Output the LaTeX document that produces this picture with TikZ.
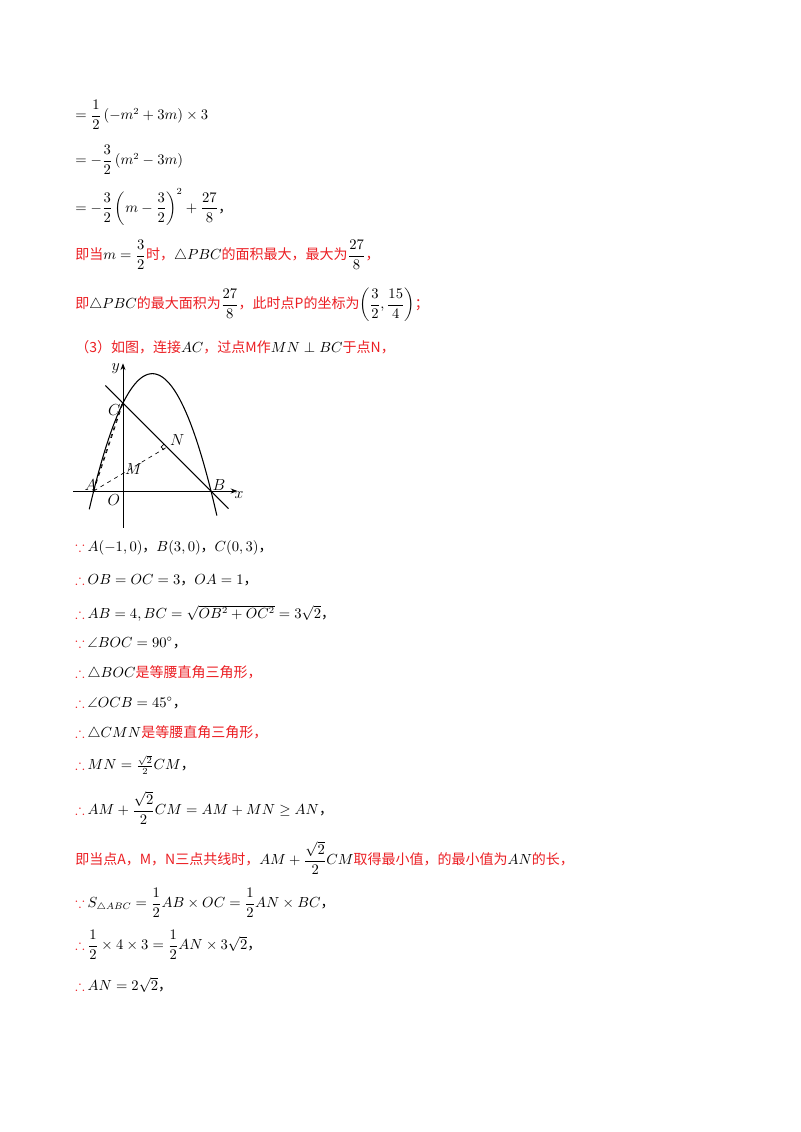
\documentclass[tikz,border=0pt]{standalone}
\usepackage{amsmath,amssymb}
\usepackage{fontspec}
\setmainfont{Noto Sans CJK SC}
\usetikzlibrary{arrows.meta,calc}
\definecolor{redt}{RGB}{235,30,35}
\newcommand{\rd}[1]{\textcolor{redt}{#1}}
\begin{document}
\begin{tikzpicture}[x=0.75pt,y=-0.75pt,
  ln/.style={anchor=west,inner sep=0pt,font=\fontsize{10.5}{12}\selectfont},
  ax/.style={line width=0.6pt},
  cv/.style={line width=0.8pt},
  lab/.style={font=\fontsize{12.5}{14}\selectfont,inner sep=1pt}]
\useasboundingbox (0,0) rectangle (800,1132);
\node[ln] (l1) at (75,115) {$=\dfrac12\left(-m^2+3m\right)\times 3$};
\node[ln] (l2) at (75,160) {$=-\dfrac32\left(m^2-3m\right)$};
\node[ln] (l3) at (75,207) {$=-\dfrac32\left(m-\dfrac32\right)^2+\dfrac{27}{8}$，};
\node[ln] (l4) at (75,255) {\rd{即当}$m=\dfrac32$\rd{时，}$\triangle PBC$\rd{的面积最大，最大为}$\dfrac{27}{8}$\rd{，}};
\node[ln] (l5) at (75,305) {\rd{即}$\triangle PBC$\rd{的最大面积为}$\dfrac{27}{8}$\rd{，此时点P的坐标为}$\left(\dfrac32,\dfrac{15}{4}\right)$\rd{；}};
\node[ln] (l6) at (75,347) {\rd{（3）如图，连接}$AC$\rd{，过点M作}$MN\perp BC$\rd{于点N，}};
% graph
\begin{scope}[shift={(123,491)},x=22pt,y=22pt]
\draw[ax,-{Stealth[length=5pt]}] (-1.7,0) -- (3.9,0);
\draw[ax,-{Stealth[length=5pt]}] (0,-1.25) -- (0,4.35);
\draw[cv] plot[domain=-1.15:3.2,samples=80,smooth] (\x,{-\x*\x+2*\x+3});
\coordinate (A) at (-1,0); \coordinate (B) at (3,0); \coordinate (C) at (0,3);
\coordinate (M) at (0,1); \coordinate (N) at (1.5,1.5);
\coordinate (P1) at (-0.6,3.6); \coordinate (P2) at (3.6,-0.6);
\draw[cv] (P1) -- (P2);
\draw[dashed,line width=0.5pt] (A) -- (N);
\draw[dashed,line width=0.5pt] (A) -- (C);
\draw[dashed,line width=0.5pt] ([xshift=-0.6pt]A) -- ([xshift=-0.6pt]C);
\draw[line width=0.5pt] ($(N)+(-0.1,-0.1)$) -- ++(-0.1,0.1) -- ++(0.1,0.1);
\node[lab,anchor=north east] at (-0.05,4.4) {$y$};
\node[lab,anchor=north west] at (3.75,0.05) {$x$};
\node[lab,anchor=east] at (-0.03,2.75) {$C$};
\node[lab,anchor=south west] at (1.55,1.5) {$N$};
\node[lab,anchor=west] at (0.02,0.75) {$M$};
\node[lab,anchor=south east] at (-0.85,-0.05) {$A$};
\node[lab,anchor=north east] at (-0.05,-0.05) {$O$};
\node[lab,anchor=south west] at (3.0,-0.05) {$B$};
\end{scope}
\node[ln] (l7) at (75,548) {\rd{$\because$} $A(-1,0)$，$B(3,0)$，$C(0,3)$，};
\node[ln] (l8) at (75,580) {\rd{$\therefore$} $OB=OC=3$，$OA=1$，};
\node[ln] (l9) at (75,613) {\rd{$\therefore$} $AB=4,BC=\sqrt{OB^2+OC^2}=3\sqrt2$，};
\node[ln] (l10) at (75,643) {\rd{$\because$} $\angle BOC=90^\circ$，};
\node[ln] (l11) at (75,673) {\rd{$\therefore$} $\triangle BOC$\rd{是等腰直角三角形，}};
\node[ln] (l12) at (75,703) {\rd{$\therefore$} $\angle OCB=45^\circ$，};
\node[ln] (l13) at (75,733) {\rd{$\therefore$} $\triangle CMN$\rd{是等腰直角三角形，}};
\node[ln] (l14) at (75,765) {\rd{$\therefore$} $MN=\frac{\sqrt2}{2}CM$，};
\node[ln] (l15) at (75,808) {\rd{$\therefore$} $AM+\dfrac{\sqrt2}{2}CM=AM+MN\ge AN$，};
\node[ln] (l16) at (75,858) {\rd{即当点A，M，N三点共线时，}$AM+\dfrac{\sqrt2}{2}CM$\rd{取得最小值，的最小值为}$AN$\rd{的长，}};
\node[ln] (l17) at (75,903) {\rd{$\because$} $S_{\triangle ABC}=\dfrac12AB\times OC=\dfrac12AN\times BC$，};
\node[ln] (l18) at (75,945) {\rd{$\therefore$} $\dfrac12\times4\times3=\dfrac12AN\times3\sqrt2$，};
\node[ln] (l19) at (75,985) {\rd{$\therefore$} $AN=2\sqrt2$，};
\end{tikzpicture}
\end{document}
